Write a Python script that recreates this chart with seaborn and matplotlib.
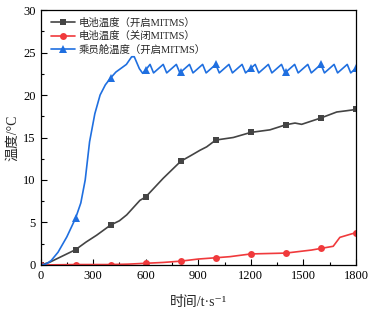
import matplotlib
matplotlib.use("Agg")
import matplotlib.pyplot as plt
import seaborn as sns
import pandas as pd
from matplotlib.ticker import MultipleLocator

# ---- data ----
blue_t = [0, 30, 60, 100, 150, 200, 230, 255, 280, 310, 340, 370, 400,
          430, 470, 490, 520, 535, 564, 583, 600,
          625, 645, 700, 720, 775, 795, 800,
          850, 870, 925, 945, 1000,
          1020, 1075, 1095, 1150, 1170, 1200,
          1225, 1245, 1300, 1320, 1375, 1395, 1400,
          1450, 1470, 1525, 1545, 1600,
          1620, 1675, 1695, 1750, 1770, 1800]
blue_v = [0, 0.1, 0.5, 1.5, 3.3, 5.5, 7.3, 10.0, 14.5, 17.8, 20.0, 21.2, 22.0,
          22.7, 23.3, 23.6, 24.5, 24.5, 23.1, 22.55, 22.95,
          23.6, 22.6, 23.6, 22.6, 23.6, 22.6, 22.69,
          23.6, 22.6, 23.6, 22.6, 23.6,
          22.6, 23.6, 22.6, 23.6, 22.6, 23.15,
          23.6, 22.6, 23.6, 22.6, 23.6, 22.6, 22.69,
          23.6, 22.6, 23.6, 22.6, 23.6,
          22.6, 23.6, 22.6, 23.6, 22.6, 23.15]

black_t = [0, 50, 100, 200, 260, 320, 400, 450, 492, 567, 600, 700, 800, 860,
           910, 948, 1000, 1100, 1200, 1309, 1400, 1452, 1490, 1600, 1690,
           1747, 1800]
black_v = [0, 0.3, 0.8, 1.8, 2.7, 3.5, 4.7, 5.2, 5.9, 7.6, 8.0, 10.2, 12.2,
           12.9, 13.5, 13.9, 14.7, 15.0, 15.6, 15.9, 16.5, 16.7, 16.55, 17.3,
           18.0, 18.15, 18.3]

red_t = [0, 200, 400, 500, 600, 700, 800, 900, 1000, 1081, 1200, 1400, 1547,
         1600, 1670, 1708, 1765, 1800]
red_v = [0, 0.05, 0.05, 0.1, 0.2, 0.3, 0.45, 0.7, 0.85, 0.98, 1.3, 1.4, 1.76,
         1.95, 2.2, 3.25, 3.6, 3.8]

labels = ["电池温度（开启MITMS）", "电池温度（关闭MITMS）", "乘员舱温度（开启MITMS）"]
xlabel = "时间/t·s⁻¹"
ylabel = "温度/°C"
marker_step = 200

sns.set_style("white")
plt.rcParams['font.family'] = ['Liberation Serif', 'Noto Sans CJK SC', 'DejaVu Serif']
plt.rcParams['axes.unicode_minus'] = False

fig = plt.figure(figsize=(3.73, 3.13), dpi=100)
ax = fig.add_axes([0.1086, 0.1534, 0.8458, 0.8146])

series = [
    (black_t, black_v, labels[0], "#444444", "s", 4.5),
    (red_t, red_v, labels[1], "#f03a3c", "o", 5.0),
    (blue_t, blue_v, labels[2], "#1f6fe0", "^", 5.5),
]
for t, v, lab, col, mk, ms in series:
    df = pd.DataFrame({"t": t, "v": v})
    idx = [i for i, x in enumerate(t) if x % marker_step == 0]
    sns.lineplot(data=df, x="t", y="v", ax=ax, color=col, linewidth=1.2,
                 marker=mk, markersize=ms, markevery=idx, markeredgewidth=0,
                 label=lab, sort=False)

ax.set_xlim(0, 1800)
ax.set_ylim(0, 30)
ax.xaxis.set_major_locator(MultipleLocator(300))
ax.xaxis.set_minor_locator(MultipleLocator(150))
ax.yaxis.set_major_locator(MultipleLocator(5))
ax.yaxis.set_minor_locator(MultipleLocator(2.5))
ax.tick_params(which="both", direction="in", top=False, right=False,
               colors="black", labelsize=9)
ax.tick_params(which="major", length=4, width=0.8, bottom=True, left=True)
ax.tick_params(which="minor", length=2, width=0.8, bottom=True, left=True)
for s in ax.spines.values():
    s.set_color("black")
    s.set_linewidth(0.9)

ax.set_xlabel(xlabel, fontsize=10, labelpad=10)
ax.set_ylabel(ylabel, fontsize=10, labelpad=3)

leg = ax.legend(loc="upper left", frameon=False, fontsize=7.5,
                handlelength=2.3, handletextpad=0.4, labelspacing=0.35,
                borderaxespad=0.3, bbox_to_anchor=(0.01, 1.0))

fig.savefig("out.png", dpi=100)
